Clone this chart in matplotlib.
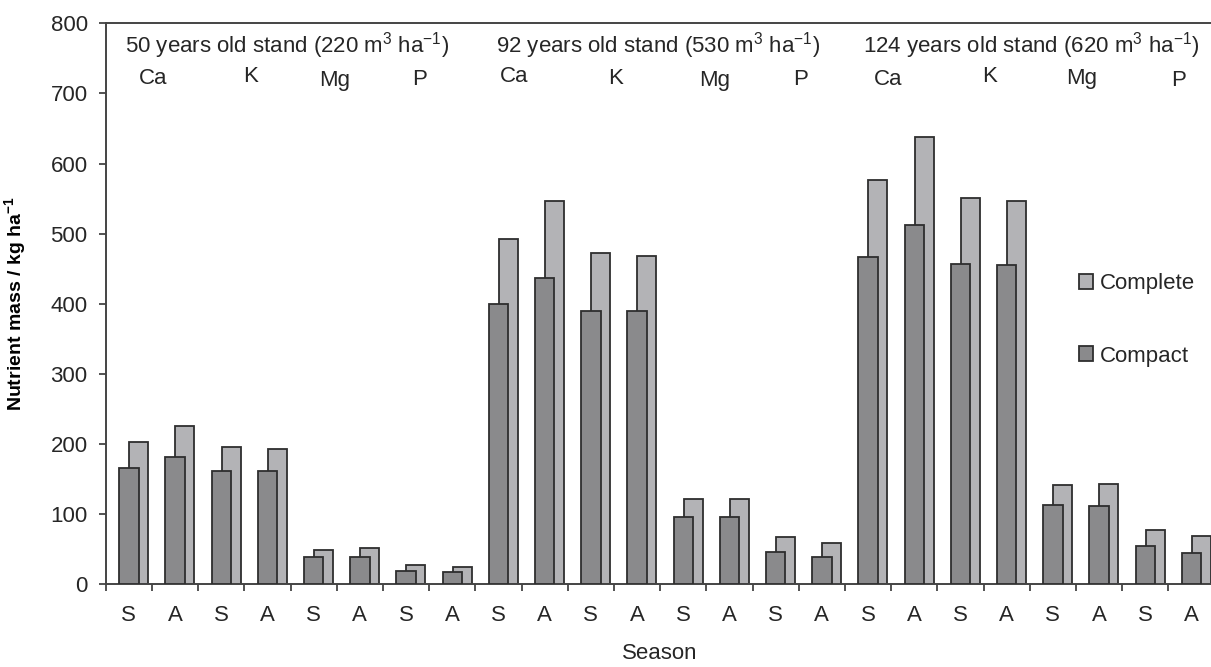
import numpy as np
import matplotlib.pyplot as plt
from matplotlib.patches import Patch

plt.rcParams['font.family'] = ['Liberation Sans', 'DejaVu Sans']
plt.rcParams['mathtext.fontset'] = 'custom'
plt.rcParams['mathtext.rm'] = 'Liberation Sans'
plt.rcParams['mathtext.bf'] = 'Liberation Sans:bold'

# season for each of the 24 groups
seasons = ['S', 'A'] * 12

# nutrient mass, kg/ha
# order: 50 yr Ca S/A, K S/A, Mg S/A, P S/A, then 92 yr, then 124 yr
compact = [166, 181, 162, 162, 39, 39, 19, 17,
           400, 437, 390, 390, 96, 96, 46, 39,
           467, 512, 457, 455, 113, 112, 55, 45]
complete = [203, 226, 196, 193, 49, 52, 27, 25,
            492, 547, 472, 468, 122, 122, 67, 59,
            577, 638, 551, 547, 141, 143, 77, 69]

stands = ['50 years old stand (220 m$^{3}$ ha$^{-1}$)',
          '92 years old stand (530 m$^{3}$ ha$^{-1}$)',
          '124 years old stand (620 m$^{3}$ ha$^{-1}$)']
elements = ['Ca', 'K', 'Mg', 'P'] * 3

txt = '#262626'
edge = '#2e2e2e'
c_dark = '#8a8a8c'
c_light = '#b3b3b6'

fig = plt.figure(figsize=(12.11, 6.67), dpi=100)
ax = fig.add_axes([0.0873, 0.124, 0.9156, 0.841])

x = np.arange(len(seasons))
ax.bar(x + 0.715, complete, width=0.41, color=c_light, edgecolor=edge,
       linewidth=1.3, zorder=2)
ax.bar(x + 0.5, compact, width=0.42, color=c_dark, edgecolor=edge,
       linewidth=1.3, zorder=3)

ax.set_xlim(0, 24)
ax.set_ylim(0, 800)
ax.set_yticks(range(0, 801, 100))

# boundary ticks (major) and season labels (minor, no tick mark)
ax.set_xticks(np.arange(0, 25))
ax.set_xticklabels([])
ax.set_xticks(x + 0.5, minor=True)
ax.set_xticklabels(seasons, minor=True)
ax.tick_params(axis='x', which='major', direction='out', length=5,
               width=1.3, color='#444444')
ax.tick_params(axis='x', which='minor', length=0, pad=15, labelsize=16,
               labelcolor=txt)
ax.tick_params(axis='y', direction='out', length=5, width=1.3,
               color='#444444', pad=8, labelsize=16, labelcolor=txt)

for s in ['left', 'bottom', 'top']:
    ax.spines[s].set_color('#444444')
    ax.spines[s].set_linewidth(1.4)
ax.spines['right'].set_visible(False)

ax.set_xlabel('Season', fontsize=16, color=txt)
ax.xaxis.set_label_coords(0.5, -0.105)
ax.set_ylabel('Nutrient mass / kg ha$^{\\mathbf{-1}}$', fontsize=14,
              fontweight='bold', color='black')
ax.yaxis.set_label_coords(-0.0695, 0.5)

# stand headers
stand_x = [0.42, 8.45, 16.39]
for sx, lab in zip(stand_x, stands):
    ax.text(sx, 769, lab, fontsize=16, color=txt, ha='left', va='center')

# element labels
elem_x = [1.02, 3.14, 4.96, 6.80, 8.84, 11.04, 13.19, 15.03,
          16.93, 19.14, 21.13, 23.23]
elem_y = [722, 724, 718, 720, 724, 722, 718, 720, 720, 724, 722, 718]
for ex, ey, lab in zip(elem_x, elem_y, elements):
    ax.text(ex, ey, lab, fontsize=16, color=txt, ha='center', va='center')

handles = [Patch(facecolor=c_light, edgecolor=edge, linewidth=1.3),
           Patch(facecolor=c_dark, edgecolor=edge, linewidth=1.3)]
fig.legend(handles, ['Complete', 'Compact'], loc='center left',
           bbox_to_anchor=(1079 / 1211, 1 - 320 / 667), frameon=False,
           fontsize=16, handlelength=0.65, handleheight=0.65,
           handletextpad=0.3, labelspacing=2.3, borderpad=0,
           borderaxespad=0, labelcolor=txt)

fig.savefig('out.png', dpi=100)
